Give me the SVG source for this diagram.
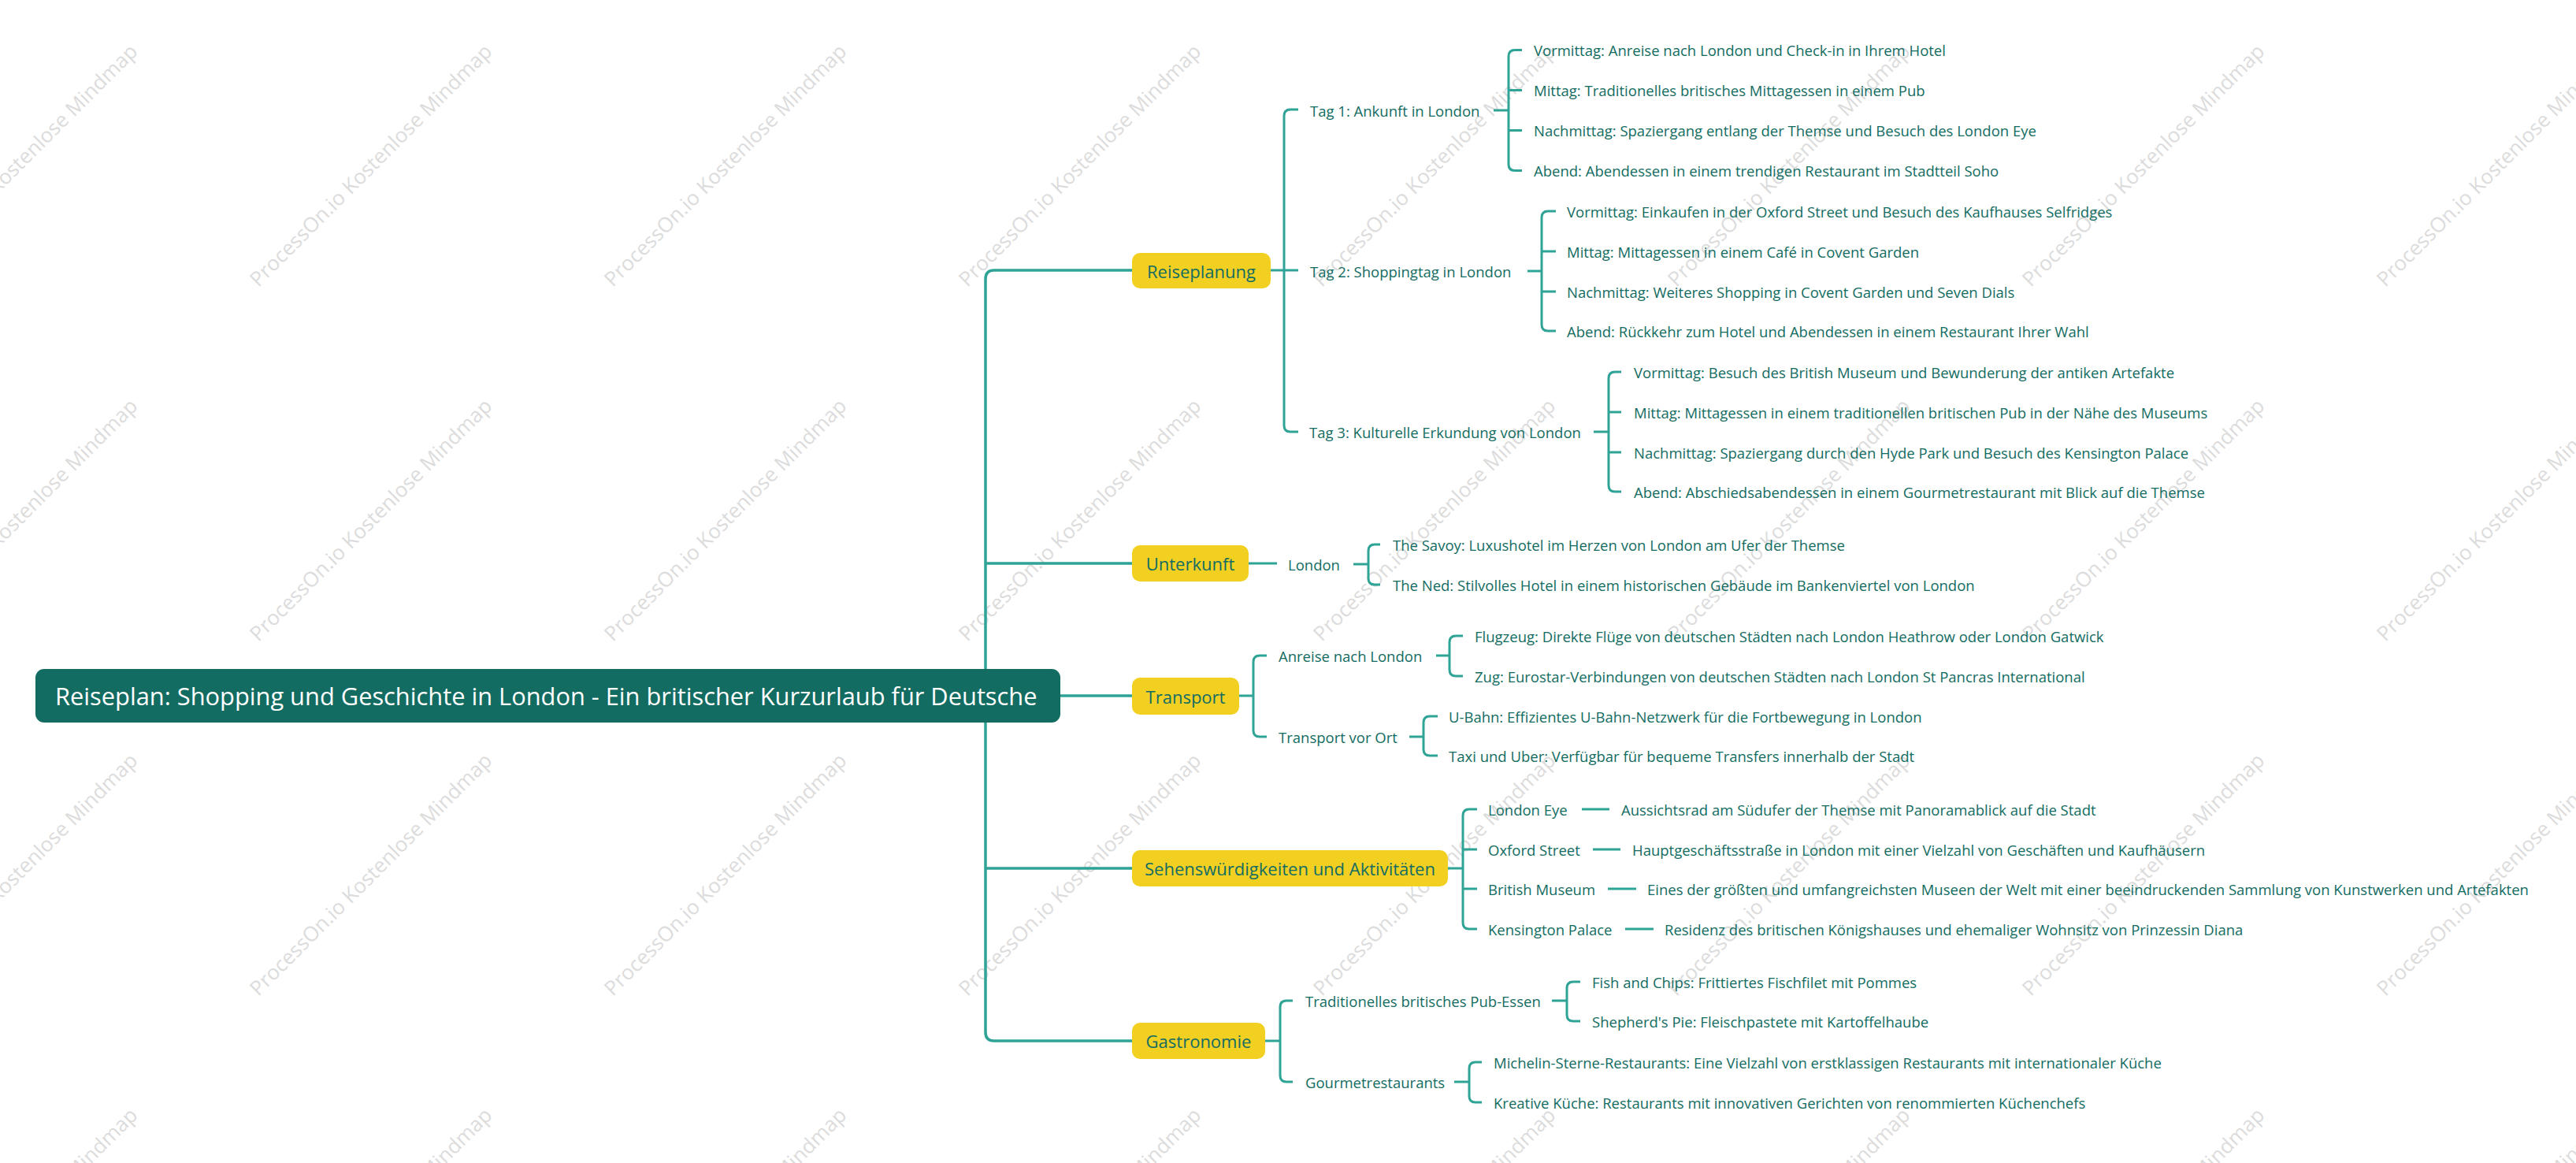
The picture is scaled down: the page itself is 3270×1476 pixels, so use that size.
<svg xmlns="http://www.w3.org/2000/svg" width="3270" height="1476" viewBox="0 0 3270 1476">
<style>
.wm{font-family:"Open Sans","Liberation Sans",sans-serif;font-size:26px;fill:#dcdcdc;text-anchor:middle;dominant-baseline:central}
.c0{fill:none;stroke:#2ea396;stroke-width:3.5}
.c1{fill:none;stroke:#2ea396;stroke-width:3}
.rootbox{fill:#136c62}
.roott{font-family:"Open Sans","Noto Sans",sans-serif;font-size:30.8px;fill:#ffffff;dominant-baseline:central}
.l1box{fill:#f2d022}
.l1t{font-family:"Open Sans","Noto Sans",sans-serif;font-size:22px;fill:#136c62;text-anchor:middle;dominant-baseline:central}
.t{font-family:"Open Sans","Noto Sans",sans-serif;font-size:18.5px;fill:#136c62;dominant-baseline:central}
</style>
<rect width="3270" height="1476" fill="#ffffff"/>
<g id="watermark">
<g transform="translate(20,209) rotate(-45)"><text class="wm">ProcessOn.io Kostenlose Mindmap</text></g>
<g transform="translate(470,209) rotate(-45)"><text class="wm">ProcessOn.io Kostenlose Mindmap</text></g>
<g transform="translate(920,209) rotate(-45)"><text class="wm">ProcessOn.io Kostenlose Mindmap</text></g>
<g transform="translate(1370,209) rotate(-45)"><text class="wm">ProcessOn.io Kostenlose Mindmap</text></g>
<g transform="translate(1820,209) rotate(-45)"><text class="wm">ProcessOn.io Kostenlose Mindmap</text></g>
<g transform="translate(2270,209) rotate(-45)"><text class="wm">ProcessOn.io Kostenlose Mindmap</text></g>
<g transform="translate(2720,209) rotate(-45)"><text class="wm">ProcessOn.io Kostenlose Mindmap</text></g>
<g transform="translate(3170,209) rotate(-45)"><text class="wm">ProcessOn.io Kostenlose Mindmap</text></g>
<g transform="translate(20,659) rotate(-45)"><text class="wm">ProcessOn.io Kostenlose Mindmap</text></g>
<g transform="translate(470,659) rotate(-45)"><text class="wm">ProcessOn.io Kostenlose Mindmap</text></g>
<g transform="translate(920,659) rotate(-45)"><text class="wm">ProcessOn.io Kostenlose Mindmap</text></g>
<g transform="translate(1370,659) rotate(-45)"><text class="wm">ProcessOn.io Kostenlose Mindmap</text></g>
<g transform="translate(1820,659) rotate(-45)"><text class="wm">ProcessOn.io Kostenlose Mindmap</text></g>
<g transform="translate(2270,659) rotate(-45)"><text class="wm">ProcessOn.io Kostenlose Mindmap</text></g>
<g transform="translate(2720,659) rotate(-45)"><text class="wm">ProcessOn.io Kostenlose Mindmap</text></g>
<g transform="translate(3170,659) rotate(-45)"><text class="wm">ProcessOn.io Kostenlose Mindmap</text></g>
<g transform="translate(20,1109) rotate(-45)"><text class="wm">ProcessOn.io Kostenlose Mindmap</text></g>
<g transform="translate(470,1109) rotate(-45)"><text class="wm">ProcessOn.io Kostenlose Mindmap</text></g>
<g transform="translate(920,1109) rotate(-45)"><text class="wm">ProcessOn.io Kostenlose Mindmap</text></g>
<g transform="translate(1370,1109) rotate(-45)"><text class="wm">ProcessOn.io Kostenlose Mindmap</text></g>
<g transform="translate(1820,1109) rotate(-45)"><text class="wm">ProcessOn.io Kostenlose Mindmap</text></g>
<g transform="translate(2270,1109) rotate(-45)"><text class="wm">ProcessOn.io Kostenlose Mindmap</text></g>
<g transform="translate(2720,1109) rotate(-45)"><text class="wm">ProcessOn.io Kostenlose Mindmap</text></g>
<g transform="translate(3170,1109) rotate(-45)"><text class="wm">ProcessOn.io Kostenlose Mindmap</text></g>
<g transform="translate(20,1559) rotate(-45)"><text class="wm">ProcessOn.io Kostenlose Mindmap</text></g>
<g transform="translate(470,1559) rotate(-45)"><text class="wm">ProcessOn.io Kostenlose Mindmap</text></g>
<g transform="translate(920,1559) rotate(-45)"><text class="wm">ProcessOn.io Kostenlose Mindmap</text></g>
<g transform="translate(1370,1559) rotate(-45)"><text class="wm">ProcessOn.io Kostenlose Mindmap</text></g>
<g transform="translate(1820,1559) rotate(-45)"><text class="wm">ProcessOn.io Kostenlose Mindmap</text></g>
<g transform="translate(2270,1559) rotate(-45)"><text class="wm">ProcessOn.io Kostenlose Mindmap</text></g>
<g transform="translate(2720,1559) rotate(-45)"><text class="wm">ProcessOn.io Kostenlose Mindmap</text></g>
<g transform="translate(3170,1559) rotate(-45)"><text class="wm">ProcessOn.io Kostenlose Mindmap</text></g>
</g>
<g id="connectors">
<path class="c0" d="M1437 343 H1262 Q1251 343 1251 354 V1310 Q1251 1321 1262 1321 H1437 M1251 715 H1437 M1251 1102 H1437 M1345 883 H1437"/>
<path class="c1" d="M1613 343 H1630 M1648 139 H1638 Q1630 139 1630 147 V540 Q1630 548 1638 548 H1648 M1630 343 H1648"/>
<path class="c1" d="M1896 140 H1915 M1932 63.5 H1923 Q1915 63.5 1915 71.5 V208.5 Q1915 216.5 1923 216.5 H1932 M1915 114.5 H1932 M1915 165.5 H1932"/>
<path class="c1" d="M1939 344 H1957 M1975 268 H1965 Q1957 268 1957 276 V412 Q1957 420 1965 420 H1975 M1957 319 H1975 M1957 370 H1975"/>
<path class="c1" d="M2023 548 H2042 M2058 472 H2050 Q2042 472 2042 480 V616 Q2042 624 2050 624 H2058 M2042 523 H2058 M2042 574 H2058"/>
<path class="c1" d="M1585 715 H1621 M1718 716 H1737 M1752 691 H1745 Q1737 691 1737 699 V734 Q1737 742 1745 742 H1752"/>
<path class="c1" d="M1573 883 H1591 M1608 832 H1599 Q1591 832 1591 840 V927 Q1591 935 1599 935 H1608"/>
<path class="c1" d="M1823 832 H1840 M1857 807 H1848 Q1840 807 1840 815 V850 Q1840 858 1848 858 H1857"/>
<path class="c1" d="M1789 935 H1807 M1825 909 H1815 Q1807 909 1807 917 V951 Q1807 959 1815 959 H1825"/>
<path class="c1" d="M1838 1102 H1857 M1875 1027 H1865 Q1857 1027 1857 1035 V1171 Q1857 1179 1865 1179 H1875 M1857 1078 H1875 M1857 1128 H1875"/>
<path class="c1" d="M2008 1027 H2043 M2022 1078 H2057 M2041 1128 H2077 M2063 1179 H2099"/>
<path class="c1" d="M1606 1321 H1625 M1641 1270 H1633 Q1625 1270 1625 1278 V1365 Q1625 1373 1633 1373 H1641"/>
<path class="c1" d="M1970 1270 H1989 M2006 1246 H1997 Q1989 1246 1989 1254 V1288 Q1989 1296 1997 1296 H2006"/>
<path class="c1" d="M1846 1373 H1865 M1881 1348 H1873 Q1865 1348 1865 1356 V1391 Q1865 1399 1873 1399 H1881"/>
</g>
<g id="root">
<rect class="rootbox" x="45" y="849" width="1301" height="68" rx="11"/>
<text class="roott" x="70" y="883">Reiseplan: Shopping und Geschichte in London - Ein britischer Kurzurlaub für Deutsche</text>
</g>
<g id="reiseplanung">
<rect class="l1box" x="1437" y="321" width="176" height="45" rx="10"/>
<text class="l1t" x="1525" y="343.5">Reiseplanung</text>
</g>
<g id="tag1"><text class="t" x="1663" y="140">Tag 1: Ankunft in London</text></g>
<g id="tag1-leaves">
<text class="t" x="1947" y="63.5">Vormittag: Anreise nach London und Check-in in Ihrem Hotel</text>
<text class="t" x="1947" y="114.5">Mittag: Traditionelles britisches Mittagessen in einem Pub</text>
<text class="t" x="1947" y="165.5">Nachmittag: Spaziergang entlang der Themse und Besuch des London Eye</text>
<text class="t" x="1947" y="216.5">Abend: Abendessen in einem trendigen Restaurant im Stadtteil Soho</text>
</g>
<g id="tag2"><text class="t" x="1663" y="344">Tag 2: Shoppingtag in London</text></g>
<g id="tag2-leaves">
<text class="t" x="1989" y="268">Vormittag: Einkaufen in der Oxford Street und Besuch des Kaufhauses Selfridges</text>
<text class="t" x="1989" y="319">Mittag: Mittagessen in einem Café in Covent Garden</text>
<text class="t" x="1989" y="370">Nachmittag: Weiteres Shopping in Covent Garden und Seven Dials</text>
<text class="t" x="1989" y="420">Abend: Rückkehr zum Hotel und Abendessen in einem Restaurant Ihrer Wahl</text>
</g>
<g id="tag3"><text class="t" x="1662" y="548">Tag 3: Kulturelle Erkundung von London</text></g>
<g id="tag3-leaves">
<text class="t" x="2074" y="472">Vormittag: Besuch des British Museum und Bewunderung der antiken Artefakte</text>
<text class="t" x="2074" y="523">Mittag: Mittagessen in einem traditionellen britischen Pub in der Nähe des Museums</text>
<text class="t" x="2074" y="574">Nachmittag: Spaziergang durch den Hyde Park und Besuch des Kensington Palace</text>
<text class="t" x="2074" y="624">Abend: Abschiedsabendessen in einem Gourmetrestaurant mit Blick auf die Themse</text>
</g>
<g id="unterkunft">
<rect class="l1box" x="1437" y="692" width="148" height="46" rx="10"/>
<text class="l1t" x="1511" y="715">Unterkunft</text>
</g>
<g id="london"><text class="t" x="1635" y="716">London</text></g>
<g id="london-leaves">
<text class="t" x="1768" y="691">The Savoy: Luxushotel im Herzen von London am Ufer der Themse</text>
<text class="t" x="1768" y="742">The Ned: Stilvolles Hotel in einem historischen Gebäude im Bankenviertel von London</text>
</g>
<g id="transport">
<rect class="l1box" x="1437" y="860" width="136" height="47" rx="10"/>
<text class="l1t" x="1505" y="883.5">Transport</text>
</g>
<g id="anreise"><text class="t" x="1623" y="832">Anreise nach London</text></g>
<g id="anreise-leaves">
<text class="t" x="1872" y="807">Flugzeug: Direkte Flüge von deutschen Städten nach London Heathrow oder London Gatwick</text>
<text class="t" x="1872" y="858">Zug: Eurostar-Verbindungen von deutschen Städten nach London St Pancras International</text>
</g>
<g id="vorort"><text class="t" x="1623" y="935">Transport vor Ort</text></g>
<g id="vorort-leaves">
<text class="t" x="1839" y="909">U-Bahn: Effizientes U-Bahn-Netzwerk für die Fortbewegung in London</text>
<text class="t" x="1839" y="959">Taxi und Uber: Verfügbar für bequeme Transfers innerhalb der Stadt</text>
</g>
<g id="sehenswuerdigkeiten">
<rect class="l1box" x="1437" y="1079" width="401" height="46" rx="10"/>
<text class="l1t" x="1637.5" y="1102">Sehenswürdigkeiten und Aktivitäten</text>
</g>
<g id="sights">
<text class="t" x="1889" y="1027">London Eye</text>
<text class="t" x="2058" y="1027">Aussichtsrad am Südufer der Themse mit Panoramablick auf die Stadt</text>
<text class="t" x="1889" y="1078">Oxford Street</text>
<text class="t" x="2072" y="1078">Hauptgeschäftsstraße in London mit einer Vielzahl von Geschäften und Kaufhäusern</text>
<text class="t" x="1889" y="1128">British Museum</text>
<text class="t" x="2091" y="1128">Eines der größten und umfangreichsten Museen der Welt mit einer beeindruckenden Sammlung von Kunstwerken und Artefakten</text>
<text class="t" x="1889" y="1179">Kensington Palace</text>
<text class="t" x="2113" y="1179">Residenz des britischen Königshauses und ehemaliger Wohnsitz von Prinzessin Diana</text>
</g>
<g id="gastronomie">
<rect class="l1box" x="1437" y="1298" width="169" height="46" rx="10"/>
<text class="l1t" x="1521.5" y="1321">Gastronomie</text>
</g>
<g id="pub"><text class="t" x="1657" y="1270">Traditionelles britisches Pub-Essen</text></g>
<g id="pub-leaves">
<text class="t" x="2021" y="1246">Fish and Chips: Frittiertes Fischfilet mit Pommes</text>
<text class="t" x="2021" y="1296">Shepherd's Pie: Fleischpastete mit Kartoffelhaube</text>
</g>
<g id="gourmet"><text class="t" x="1657" y="1373">Gourmetrestaurants</text></g>
<g id="gourmet-leaves">
<text class="t" x="1896" y="1348">Michelin-Sterne-Restaurants: Eine Vielzahl von erstklassigen Restaurants mit internationaler Küche</text>
<text class="t" x="1896" y="1399">Kreative Küche: Restaurants mit innovativen Gerichten von renommierten Küchenchefs</text>
</g>
</svg>
